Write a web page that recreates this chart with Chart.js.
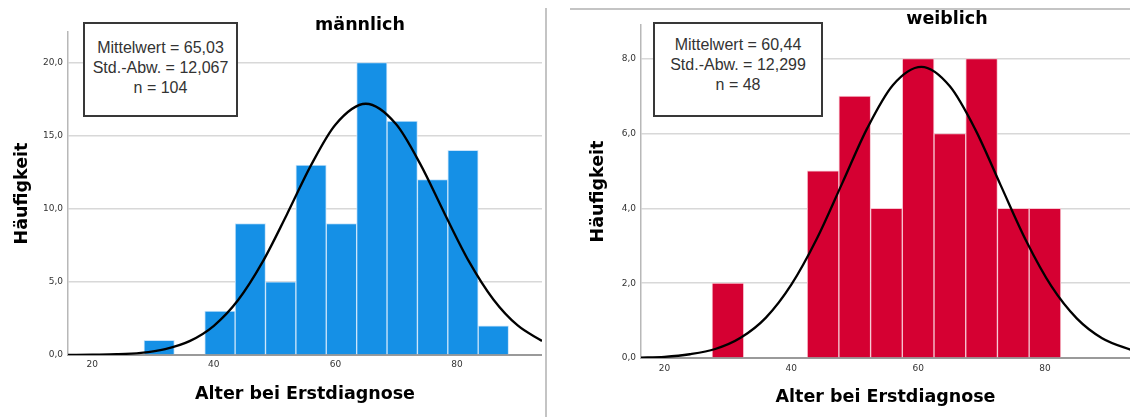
<!DOCTYPE html>
<html>
<head>
<meta charset="utf-8">
<script src="https://cdn.jsdelivr.net/npm/chart.js@4"></script>
<style>
  body { margin: 0; background: #fff; width: 1130px; height: 417px; position: relative; overflow: hidden; }
  canvas { position: absolute; top: 0; }
  .title { position: absolute; font: bold 17.5px "DejaVu Sans", sans-serif; color: #000; transform: translate(-50%, -50%); white-space: nowrap; }
  .statbox { position: absolute; box-sizing: border-box; border: 2px solid #383838; text-align: center;
             font: 16px "Liberation Sans", Arial, sans-serif; color: #333; line-height: 20px; background: #fff; }
  .sep { position: absolute; background: #c4c4c4; }
</style>
</head>
<body>
<canvas id="maleChart" width="542" height="417" style="left:0px"></canvas>
<canvas id="femaleChart" width="554" height="417" style="left:576px"></canvas>

<div class="sep" style="left:545px; top:8px; width:1.5px; height:409px"></div>
<div class="sep" style="left:570px; top:8px; width:560px; height:1.5px"></div>

<div class="title" style="left:360px; top:24px">männlich</div>
<div class="title" style="left:947px; top:18px">weiblich</div>

<div class="statbox" style="left:83px; top:22px; width:155px; height:95px; padding-top:14px">
  Mittelwert = 65,03<br>Std.-Abw. = 12,067<br>n = 104
</div>
<div class="statbox" style="left:653px; top:22px; width:170px; height:95px; padding-top:11px">
  Mittelwert = 60,44<br>Std.-Abw. = 12,299<br>n = 48
</div>

<script>
// histogram bins (bin centre, age in years) and counts
const maleBinCenters = [31, 36, 41, 46, 51, 56, 61, 66, 71, 76, 81, 86];
const maleCounts = [1, 0, 3, 9, 5, 13, 9, 20, 16, 12, 14, 2];
const femaleBinCenters = [30, 35, 40, 45, 50, 55, 60, 65, 70, 75, 80];
const femaleCounts = [2, 0, 0, 5, 7, 4, 8, 6, 8, 4, 4];

// normal curves
const maleCurveAges = [16, 20, 24, 28, 32, 36, 40, 44, 48, 52, 56, 60, 65, 70, 74, 78, 82, 86, 90, 94];
const maleCurve = [0.00, 0.02, 0.05, 0.15, 0.41, 0.95, 2.00, 3.76, 6.35, 9.60, 12.99, 15.76, 17.19, 15.79, 13.04, 9.65, 6.39, 3.80, 2.02, 0.96];
const femaleCurveAges = [16, 20, 24, 28, 32, 36, 40, 44, 48, 52, 56, 60.5, 65, 69, 73, 77, 81, 85, 89, 94];
const femaleCurve = [0.01, 0.03, 0.10, 0.24, 0.54, 1.08, 1.96, 3.18, 4.66, 6.15, 7.29, 7.78, 7.26, 6.11, 4.62, 3.14, 1.92, 1.06, 0.53, 0.19];

// axis ticks
const xTicks = [20, 40, 60, 80];
const maleYTicks = [0, 5, 10, 15, 20];
const femaleYTicks = [0, 2, 4, 6, 8];

function makeHistogram(canvasId, cfg) {
    const bars = cfg.centers
        .map((x, i) => ({ x: x, y: cfg.counts[i] }))
        .filter(p => p.y > 0);
    const curve = cfg.curveAges.map((x, i) => ({ x: x, y: cfg.curve[i] }));

    return new Chart(document.getElementById(canvasId), {
        type: 'bar',
        data: {
            datasets: [
                {
                    type: 'line', data: curve, borderColor: '#000', borderWidth: 2.3,
                    pointRadius: 0, cubicInterpolationMode: 'monotone', fill: false
                },
                {
                    type: 'bar', data: bars, backgroundColor: cfg.color, borderColor: cfg.edge,
                    borderWidth: 1, barPercentage: 1, categoryPercentage: 1
                }
            ]
        },
        options: {
            responsive: false,
            animation: false,
            devicePixelRatio: 1,
            layout: { padding: { top: cfg.top, left: 0, right: 0, bottom: 0 } },
            plugins: { legend: { display: false }, tooltip: { enabled: false } },
            scales: {
                x: {
                    type: 'linear', min: cfg.xMin, max: cfg.xMax, offset: false,
                    afterBuildTicks: s => { s.ticks = xTicks.map(v => ({ value: v })); },
                    afterFit: s => { s.height = cfg.xAxisHeight; },
                    grid: { display: false, drawTicks: false },
                    border: { display: true, color: '#9a9a9a', width: 2 },
                    ticks: { color: '#333', padding: cfg.xTickPad, maxRotation: 0, font: { family: 'DejaVu Sans', size: 9 } },
                    title: {
                        display: true, text: 'Alter bei Erstdiagnose', color: '#000',
                        font: { family: 'DejaVu Sans', size: 17.5, weight: 'bold' },
                        padding: { top: 0, bottom: cfg.xTitlePad }
                    }
                },
                y: {
                    min: 0, max: cfg.yMax,
                    afterBuildTicks: s => { s.ticks = cfg.yTicks.map(v => ({ value: v })); },
                    afterFit: s => { s.width = cfg.yAxisWidth; },
                    grid: { color: '#d8d8d8', lineWidth: 1.5, drawTicks: false },
                    border: { display: true, color: '#b8b8b8', width: 1.5 },
                    ticks: {
                        color: '#333', padding: 5, font: { family: 'DejaVu Sans', size: 9 },
                        callback: v => v.toFixed(1).replace('.', ',')
                    },
                    title: {
                        display: true, text: 'Häufigkeit', color: '#000',
                        font: { family: 'DejaVu Sans', size: 17.5, weight: 'bold' },
                        padding: { top: 11.5, bottom: 0 }
                    }
                }
            }
        }
    });
}

makeHistogram('maleChart', {
    centers: maleBinCenters, counts: maleCounts, curveAges: maleCurveAges, curve: maleCurve,
    color: '#1590e6', edge: '#c9e4fa',
    xMin: 16, xMax: 94, yMax: 22.1, yTicks: maleYTicks,
    top: 32, yAxisWidth: 68, xAxisHeight: 62, xTickPad: 4.5, xTitlePad: 12.5
});

makeHistogram('femaleChart', {
    centers: femaleBinCenters, counts: femaleCounts, curveAges: femaleCurveAges, curve: femaleCurve,
    color: '#d50032', edge: '#f7c6d2',
    xMin: 16.3, xMax: 93.4, yMax: 8.9, yTicks: femaleYTicks,
    top: 25, yAxisWidth: 65, xAxisHeight: 59, xTickPad: 5, xTitlePad: 9
});
</script>
</body>
</html>
